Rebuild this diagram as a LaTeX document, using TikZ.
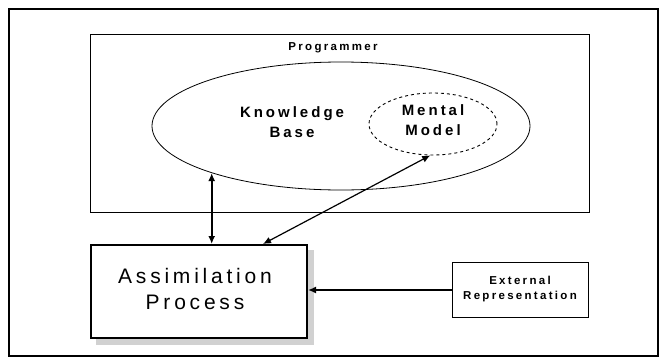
\documentclass[tikz,border=0pt]{standalone}
\usepackage{fontspec}
\setmainfont{Liberation Sans}
\newfontfamily\spacedA[LetterSpace=20]{Liberation Sans}
\newfontfamily\spacedB[LetterSpace=18]{Liberation Sans}
\usetikzlibrary{arrows.meta,shapes.geometric,calc}
\begin{document}
\begin{tikzpicture}[x=1pt,y=-1pt,
  lbl/.style={font=\spacedA\bfseries, align=center, inner sep=0pt},
  tip/.style={-{Latex[length=8pt,width=7pt]}},
  both/.style={{Latex[length=8pt,width=7pt]}-{Latex[length=8pt,width=7pt]}}]
\useasboundingbox (0,0) rectangle (665,362);
% outer frame
\node[draw, line width=1.6pt, minimum width=649pt, minimum height=347pt, inner sep=0pt, anchor=north west] (frame) at (8,8) {};
% programmer box
\node[draw, line width=1.1pt, minimum width=499pt, minimum height=178pt, inner sep=0pt, anchor=north west] (prog) at (90,34) {};
\node[lbl, font=\spacedA\bfseries\fontsize{11.5}{13}\selectfont] (progt) at (333,48) {Programmer};
% knowledge base ellipse
\node[draw, ellipse, line width=0.8pt, minimum width=378pt, minimum height=128pt, inner sep=0pt] (kb) at (341,126) {};
\node[lbl, font=\spacedA\bfseries\fontsize{15}{20}\selectfont] (kbt) at (292,122) {Knowledge\\Base};
% mental model
\node[draw, ellipse, dashed, line width=0.9pt, minimum width=128pt, minimum height=62pt, inner sep=0pt] (mm) at (433,124) {};
\node[lbl, font=\spacedA\bfseries\fontsize{15}{20}\selectfont] (mmt) at (433,120) {Mental\\Model};
% assimilation shadow
\fill[black!18] (306,250) rectangle (314,345);
\fill[black!18] (96,337) rectangle (314,345);
% assimilation box
\node[draw, fill=white, line width=2pt, minimum width=216pt, minimum height=93pt, inner sep=0pt, anchor=north west] (assim) at (90,244) {};
\node[align=center, inner sep=0pt, font=\spacedB\fontsize{21}{26}\selectfont] (assimt) at (195,289) {Assimilation\\Process};
% external representation
\node[draw, line width=1pt, minimum width=136pt, minimum height=55pt, inner sep=0pt, anchor=north west] (ext) at (452,262) {};
\node[lbl, font=\spacedA\bfseries\fontsize{11.5}{15}\selectfont] (extt) at (520,289) {External\\Representation};
% connectors
\draw[both, line width=2pt] (kb.200) -- (kb.200 |- assim.north);
\draw[both, line width=1.2pt] (mm.265) -- ([xshift=64pt]assim.north);
\draw[tip, line width=1.6pt] (ext.west) -- (ext.west -| assim.east);
\end{tikzpicture}
\end{document}
